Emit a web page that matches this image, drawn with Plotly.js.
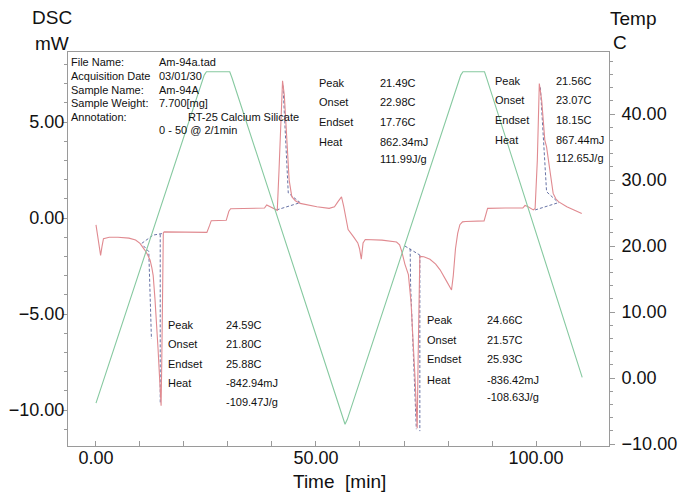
<!DOCTYPE html>
<html>
<head>
<meta charset="utf-8">
<script src="https://cdn.plot.ly/plotly-3.0.1.min.js"></script>
<style>html,body{margin:0;padding:0;background:#fff;}#chart{width:687px;height:495px;}</style>
</head>
<body>
<div id="chart"></div>
<script>
// ---- DSC signal (mW) vs time (min) ----
const dscTime = [0, 0.4, 0.75, 1.05, 1.35, 1.7, 3, 5, 7.5, 9, 10, 10.6, 11.1, 11.7, 12.3, 12.7, 13.0, 13.4, 13.8, 14.1, 14.4, 14.6, 14.8, 14.95, 15.1, 15.3, 15.5, 20, 25.2, 25.8, 26.2, 29.6, 30.2, 30.6, 34, 38.3, 38.8, 39.3, 40.0, 40.8, 41.2, 41.6, 42.0, 42.4, 42.8, 43.1, 43.3, 43.6, 43.9, 44.5, 45.3, 46.4, 48, 50.2, 53.0, 54.2, 55.0, 55.8, 56.3, 56.7, 57.3, 58.5, 59.5, 59.9, 60.3, 60.7, 61.2, 65, 68.3, 69.0, 69.5, 70.2, 71.0, 71.6, 72.1, 72.5, 72.8, 73.0, 73.2, 73.4, 73.6, 74.5, 75.9, 77.2, 78.2, 79.7, 80.4, 80.8, 81.2, 81.7, 82.2, 82.7, 83.3, 84, 88.2, 88.6, 89.0, 93, 97.0, 97.5, 98.1, 99.4, 99.8, 100.3, 100.75, 101.3, 101.7, 102.0, 102.4, 103.2, 103.9, 104.5, 105.1, 107.0, 110.4];
const dscValue = [-0.36, -1.05, -1.6, -1.95, -1.5, -1.08, -1.0, -1.0, -1.05, -1.15, -1.32, -1.5, -1.67, -1.9, -2.2, -2.6, -3.0, -4.2, -5.5, -6.8, -8.1, -9.0, -9.78, -7.5, -2.5, -0.78, -0.72, -0.72, -0.75, -0.4, -0.14, -0.12, 0.35, 0.48, 0.5, 0.52, 0.68, 0.62, 0.5, 0.42, 0.4, 2.5, 5.0, 7.15, 6.4, 5.3, 4.23, 3.37, 1.98, 1.11, 0.9, 0.76, 0.68, 0.59, 0.5, 0.58, 0.85, 1.1, 0.6, 0.05, -0.6, -0.97, -1.3, -1.6, -2.15, -1.3, -1.12, -1.15, -1.25, -1.4, -1.75, -2.4, -2.95, -4.4, -6.35, -8.3, -9.9, -10.95, -7.5, -3.5, -2.0, -2.02, -2.15, -2.4, -2.7, -3.3, -3.6, -3.75, -3.0, -1.6, -0.8, -0.35, -0.2, -0.18, -0.15, 0.2, 0.5, 0.52, 0.52, 0.65, 0.6, 0.42, 0.5, 3.0, 7.0, 6.1, 5.0, 4.06, 3.7, 2.5, 1.28, 1.0, 0.85, 0.59, 0.24];

// ---- Temperature program (C) vs time (min) ----
const tempTime  = [0, 24.6, 25.1, 30.4, 30.9, 56.1, 56.6, 57.1, 82.9, 83.4, 88.3, 88.8, 110.5];
const tempValue = [-3.8, 45.9, 46.4, 46.4, 45.5, -6.3, -7.0, -6.3, 45.9, 46.4, 46.4, 45.4, 0.1];

// ---- Peak analysis construction lines (null = break) ----
const baseTime  = [10.4, 13.0, 15.3, null, 10.8, 12.0, 12.6, null, 14.6, 14.6, null,
                   41.05, 46.4, null, 42.5, 43.7, 46.4, null,
                   70.2, 71.75, 73.6, null, 71.4, 71.5, 72.8, null, 73.6, 73.6, null,
                   99.8, 105.1, null, 101.0, 102.4, 105.1];
const baseValue = [-1.32, -0.89, -0.8, null, -1.45, -1.75, -6.3, null, -0.85, -9.6, null,
                   0.42, 0.8, null, 6.9, 1.3, 0.8, null,
                   -1.46, -1.67, -1.93, null, -1.6, -3.5, -11.0, null, -1.93, -11.1, null,
                   0.42, 0.8, null, 6.8, 1.37, 0.8];

// ---- Text ----
const headerLabels = ["File Name:", "Acquisition Date", "Sample Name:", "Sample Weight:", "Annotation:"];
const headerValues = ["Am-94a.tad", "03/01/30", "Am-94A", "7.700[mg]"];
const annotationText = "RT-25 Calcium Silicate";
const programText = "0 - 50 @ 2/1min";
const peakLabels = ["Peak", "Onset", "Endset", "Heat"];
const peak1Values = ["24.59C", "21.80C", "25.88C", "-842.94mJ", "-109.47J/g"];
const peak2Values = ["21.49C", "22.98C", "17.76C", "862.34mJ", "111.99J/g"];
const peak3Values = ["24.66C", "21.57C", "25.93C", "-836.42mJ", "-108.63J/g"];
const peak4Values = ["21.56C", "23.07C", "18.15C", "867.44mJ", "112.65J/g"];

const FONT = "Liberation Sans, Arial, Helvetica, sans-serif";
const L = 68, R = 609, T = 52, B = 446;
function ann(text, px, py, size, anchor) {
  return {xref: 'paper', yref: 'paper', x: (px - L) / (R - L), y: (B - py) / (B - T),
          xanchor: anchor || 'left', yanchor: 'middle', text: text, showarrow: false,
          borderpad: 0, font: {family: FONT, size: size, color: '#111'}};
}
const annotations = [];
annotations.push(ann("DSC", 31, 17, 19));
annotations.push(ann("mW", 34, 43, 19));
annotations.push(ann("Temp", 609, 18, 19));
annotations.push(ann("C", 612, 42, 19));
annotations.push(ann("Time&nbsp; [min]", 292, 481, 19));

const headerY = [62, 76, 90, 103, 117];
headerLabels.forEach((t, i) => annotations.push(ann(t, 70, headerY[i], 11)));
headerValues.forEach((t, i) => annotations.push(ann(t, 158, headerY[i], 11)));
annotations.push(ann(annotationText, 187, 117, 11));
annotations.push(ann(programText, 158, 130, 11));

function block(values, lx, vx, ys) {
  peakLabels.forEach((t, i) => annotations.push(ann(t, lx, ys[i], 11)));
  values.forEach((t, i) => annotations.push(ann(t, vx, ys[i], 11)));
}
block(peak2Values, 318, 379, [83, 102, 122, 142, 159]);
block(peak4Values, 494, 555, [81, 100, 120, 140, 158]);
block(peak1Values, 167, 225, [325, 344, 364, 383, 402]);
block(peak3Values, 426, 486, [320, 340, 359, 380, 397]);

const traces = [
  {x: tempTime, y: tempValue, yaxis: 'y2', mode: 'lines', line: {color: '#86c9a0', width: 1.1}, hoverinfo: 'skip'},
  {x: baseTime, y: baseValue, mode: 'lines', connectgaps: false, line: {color: '#56639c', width: 0.9, dash: '3px,2px'}, hoverinfo: 'skip'},
  {x: dscTime, y: dscValue, mode: 'lines', line: {color: '#e08a90', width: 1.1}, hoverinfo: 'skip'}
];

const axCol = '#9a9a9a';
const tickFont = {family: FONT, size: 18, color: '#111'};
const layout = {
  width: 687, height: 495,
  margin: {l: L, r: 687 - R, t: T, b: 495 - B, pad: 0},
  paper_bgcolor: '#fff', plot_bgcolor: '#fff',
  showlegend: false,
  xaxis: {range: [-6.36, 116.59], tick0: 0, dtick: 50, tickformat: '.2f',
          ticks: 'inside', ticklen: 5, tickcolor: axCol, showline: true, linecolor: axCol,
          linewidth: 1, mirror: true, showgrid: false, zeroline: false, tickfont: tickFont,
          ticklabelstandoff: -5,
          minor: {dtick: 10, ticks: 'inside', ticklen: 5, tickcolor: axCol}},
  yaxis: {range: [-11.875, 8.646], tick0: 0, dtick: 5, tickformat: '.2f',
          ticks: 'outside', ticklen: 4, tickcolor: axCol, showline: true, linecolor: axCol,
          linewidth: 1, showgrid: false, zeroline: false, tickfont: tickFont,
          ticklabelstandoff: -5,
          minor: {dtick: 1, ticks: 'outside', ticklen: 3, tickcolor: axCol}},
  yaxis2: {range: [-10.3, 49.4], tick0: 0, dtick: 10, tickformat: '.2f', overlaying: 'y', side: 'right',
           ticks: 'outside', ticklen: 5, tickcolor: axCol, showline: true, linecolor: axCol,
           linewidth: 1, showgrid: false, zeroline: false, tickfont: tickFont, ticklabelstandoff: 3,
           minor: {dtick: 2, ticks: 'outside', ticklen: 3, tickcolor: axCol}},
  annotations: annotations
};
Plotly.newPlot('chart', traces, layout, {staticPlot: true, displayModeBar: false});
</script>
</body>
</html>
